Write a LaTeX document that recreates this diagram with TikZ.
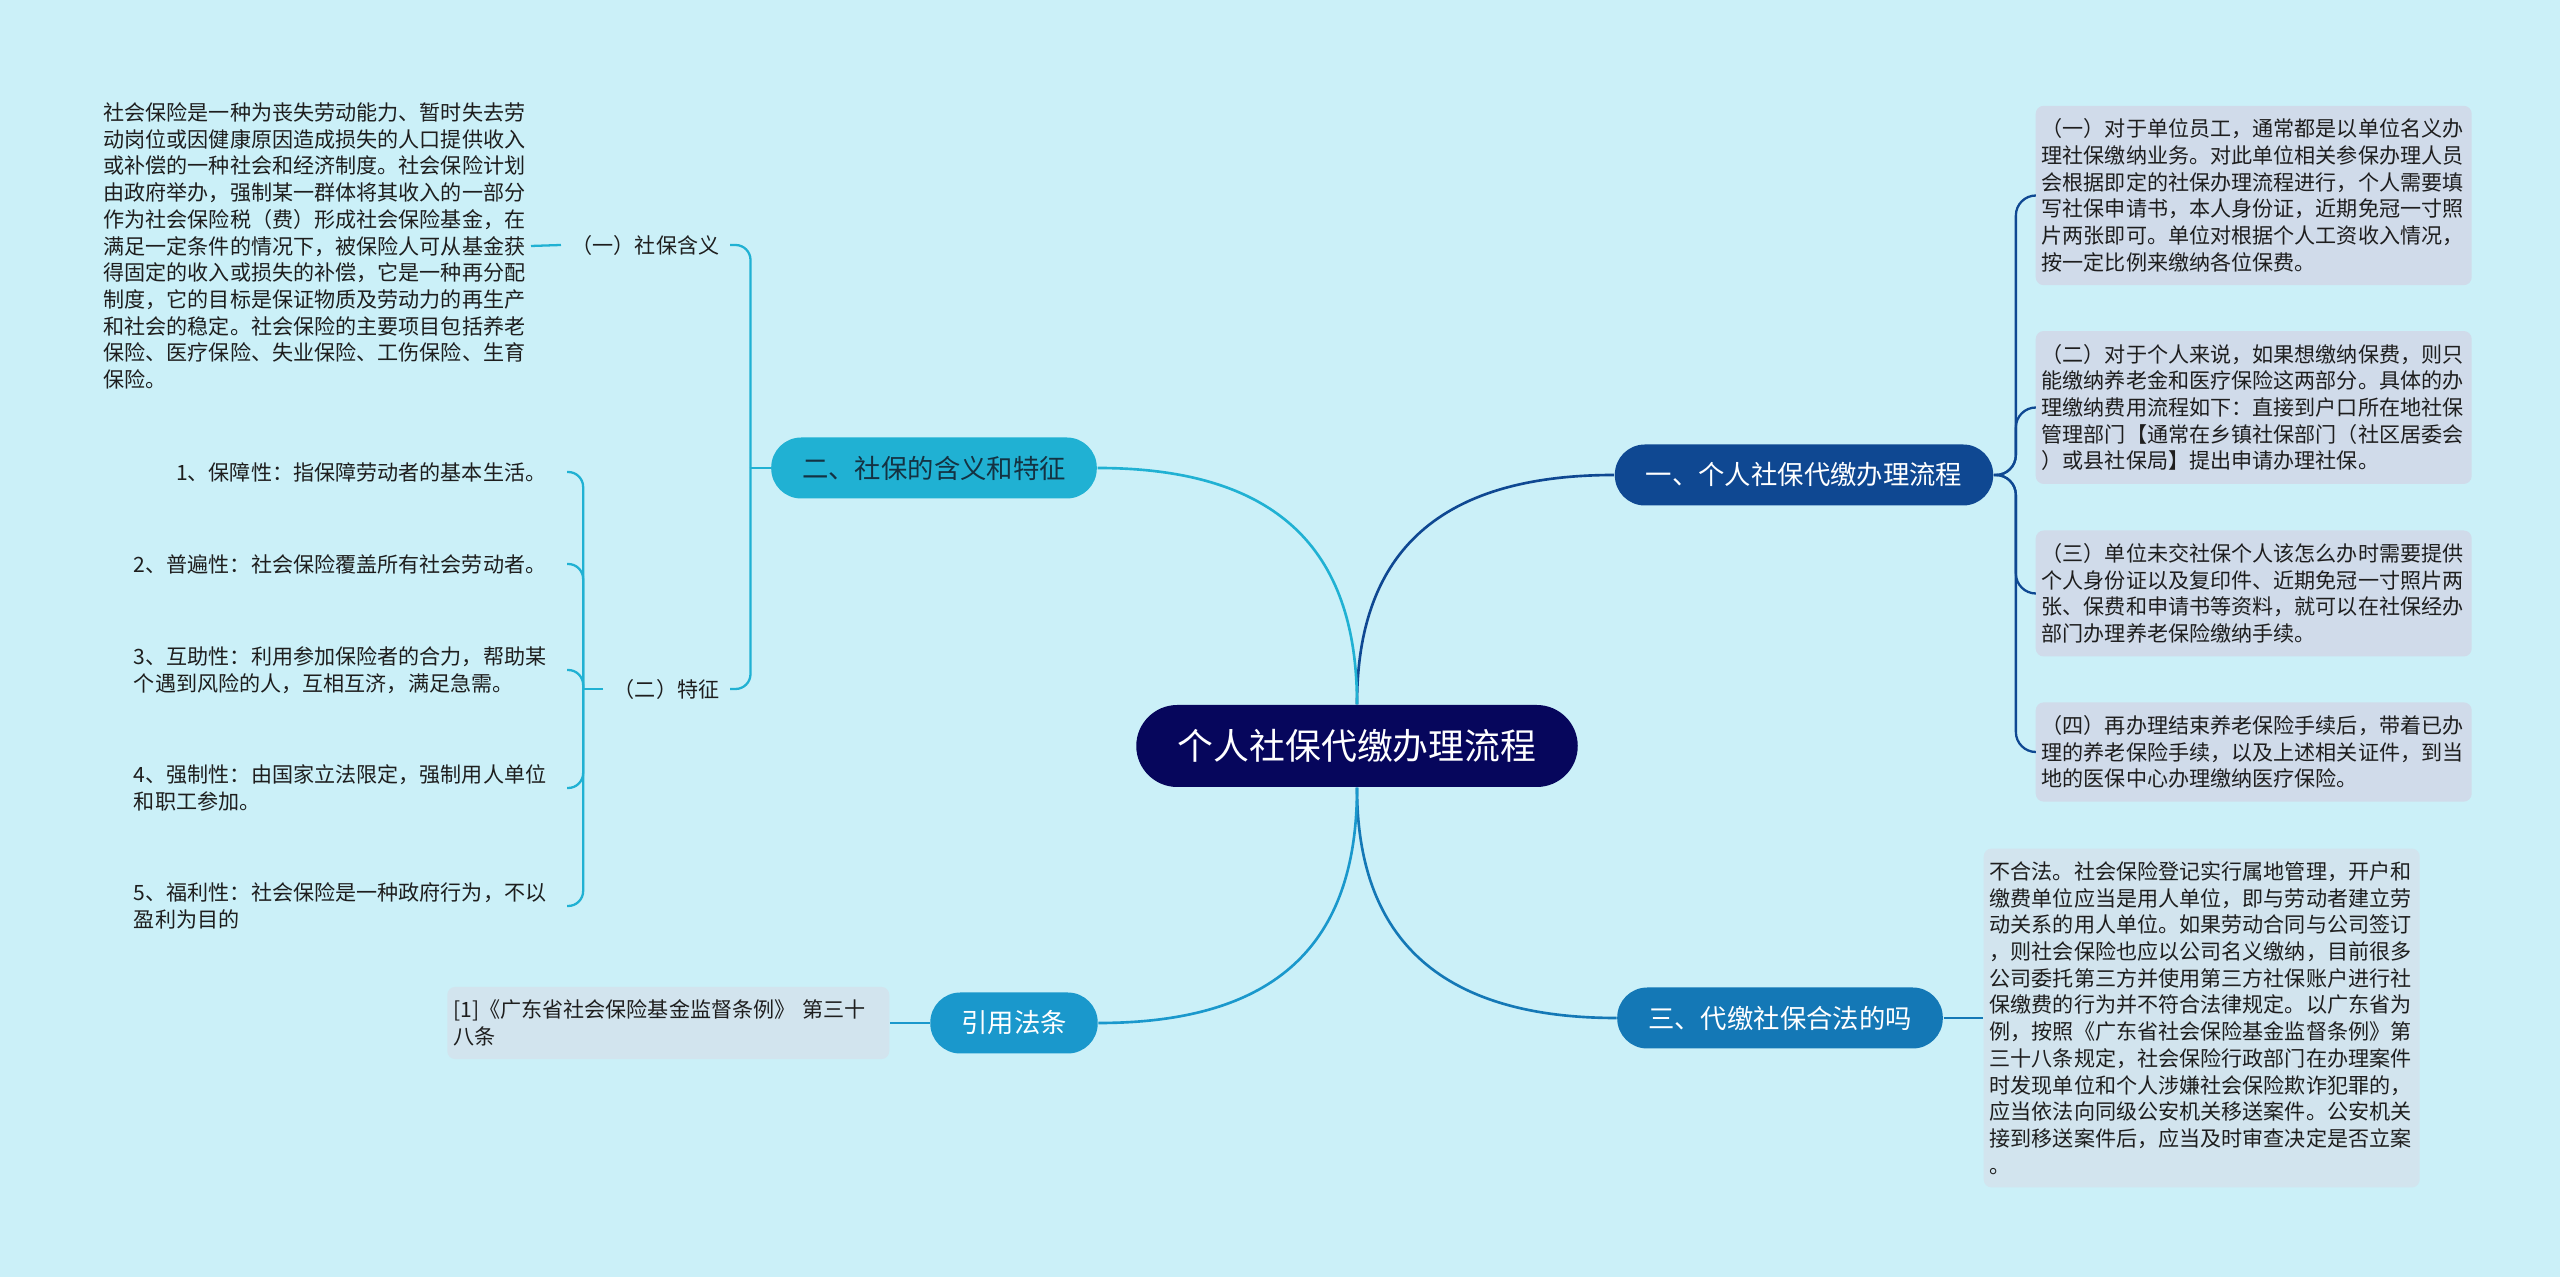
\documentclass[tikz,border=0pt]{standalone}
\usepackage{fontspec}
\setmainfont{Noto Sans CJK SC}
\usetikzlibrary{calc,positioning}
\definecolor{bgcyan}{RGB}{203,240,248}
\definecolor{rootnavy}{RGB}{6,6,92}
\definecolor{oneblue}{RGB}{15,72,146}
\definecolor{twocyan}{RGB}{32,177,211}
\definecolor{threeblue}{RGB}{20,120,182}
\definecolor{citeblue}{RGB}{26,152,204}
\definecolor{cardgray}{RGB}{208,219,234}
\definecolor{cardcyan}{RGB}{210,228,238}
\definecolor{inkgray}{RGB}{30,30,30}
\definecolor{twoink}{RGB}{20,50,66}
\newcommand{\leaffont}{\fontsize{6pt}{7.6pt}\selectfont}
\tikzset{pill/.style={rounded corners=0.3cm,minimum height=0.61cm,inner xsep=0.31cm,inner ysep=0pt,
    font=\fontsize{7.5pt}{9pt}\selectfont,text=white},
  leaf/.style={inner sep=0.05cm,align=left,font=\leaffont,text=inkgray},
  card/.style={leaf,rounded corners=0.08cm,inner xsep=0.06cm,inner ysep=0.13cm,text width=4.24cm},
  link/.style={line width=0.75pt},
  hook/.style={line width=0.65pt,rounded corners=0.15cm}}
\begin{document}
\begin{tikzpicture}
\fill[bgcyan] (0,0) rectangle (25.6,-12.77);
\useasboundingbox (0,0) rectangle (25.6,-12.77);
% centre and main branches
\node[pill,fill=rootnavy,minimum height=0.82cm,inner xsep=0.415cm,rounded corners=0.41cm,
  font=\fontsize{10.2pt}{12pt}\selectfont] (root) at (13.57,-7.46) {个人社保代缴办理流程};
\node[pill,fill=oneblue] (b1) at (18.04,-4.75) {一、个人社保代缴办理流程};
\node[pill,fill=twocyan,text=twoink] (b2) at (9.34,-4.68) {二、社保的含义和特征};
\node[pill,fill=threeblue] (b3) at (17.80,-10.18) {三、代缴社保合法的吗};
\node[pill,fill=citeblue] (b4) at (10.14,-10.23) {引用法条};
\draw[link,oneblue] (root.north) .. controls +(0,1.45) and +(-1.83,0) .. (b1.west);
\draw[link,twocyan] (root.north) .. controls +(0,1.45) and +(1.9,0) .. (b2.east);
\draw[link,threeblue] (root.south) .. controls +(0,-1.45) and +(-1.83,0) .. (b3.west);
\draw[link,citeblue] (root.south) .. controls +(0,-1.45) and +(1.9,0) .. (b4.east);
% right side
\node[card,fill=cardgray,anchor=west] (r1) at (20.35,-1.955) {（一）对于单位员工，通常都是以单位名义办\\理社保缴纳业务。对此单位相关参保办理人员\\会根据即定的社保办理流程进行，个人需要填\\写社保申请书，本人身份证，近期免冠一寸照\\片两张即可。单位对根据个人工资收入情况，\\按一定比例来缴纳各位保费。};
\node[card,fill=cardgray,anchor=west] (r2) at (20.35,-4.075) {（二）对于个人来说，如果想缴纳保费，则只\\能缴纳养老金和医疗保险这两部分。具体的办\\理缴纳费用流程如下：直接到户口所在地社保\\管理部门【通常在乡镇社保部门（社区居委会\\）或县社保局】提出申请办理社保。};
\node[card,fill=cardgray,anchor=west] (r3) at (20.35,-5.935) {（三）单位未交社保个人该怎么办时需要提供\\个人身份证以及复印件、近期免冠一寸照片两\\张、保费和申请书等资料，就可以在社保经办\\部门办理养老保险缴纳手续。};
\node[card,fill=cardgray,anchor=west] (r4) at (20.35,-7.52) {（四）再办理结束养老保险手续后，带着已办\\理的养老保险手续，以及上述相关证件，到当\\地的医保中心办理缴纳医疗保险。};
\coordinate (s1) at ($(b1.east)+(0.22,0)$);
\foreach \n in {r1,r2,r3,r4}
  \draw[hook,oneblue,rounded corners=0.2cm] (b1.east) -- (s1) |- (\n.west);
\node[card,fill=cardcyan,anchor=west] (r5) at (19.83,-10.18) {不合法。社会保险登记实行属地管理，开户和\\缴费单位应当是用人单位，即与劳动者建立劳\\动关系的用人单位。如果劳动合同与公司签订\\，则社会保险也应以公司名义缴纳，目前很多\\公司委托第三方并使用第三方社保账户进行社\\保缴费的行为并不符合法律规定。以广东省为\\例，按照《广东省社会保险基金监督条例》第\\三十八条规定，社会保险行政部门在办理案件\\时发现单位和个人涉嫌社会保险欺诈犯罪的，\\应当依法向同级公安机关移送案件。公安机关\\接到移送案件后，应当及时审查决定是否立案\\。};
\draw[hook,threeblue] (b3.east) -- (r5.west);
% left side
\node[card,fill=cardcyan,anchor=east,text width=4.3cm] (l4) at (8.90,-10.23) {[1]《广东省社会保险基金监督条例》 第三十\\八条};
\draw[hook,citeblue] (b4.west) -- (l4.east);
\node[leaf,anchor=east,inner xsep=0.1cm] (c21) at (7.30,-2.45) {（一）社保含义};
\node[leaf,anchor=east,inner xsep=0.1cm] (c22) at (7.30,-6.89) {（二）特征};
\coordinate (s2) at ($(b2.west)+(-0.2,0)$);
\draw[hook,twocyan] (b2.west) -- (s2);
\foreach \n in {c21,c22}
  \draw[hook,twocyan] (s2) |- (\n.east);
\node[leaf,anchor=east] (d21) at (5.31,-2.46) {社会保险是一种为丧失劳动能力、暂时失去劳\\动岗位或因健康原因造成损失的人口提供收入\\或补偿的一种社会和经济制度。社会保险计划\\由政府举办，强制某一群体将其收入的一部分\\作为社会保险税（费）形成社会保险基金，在\\满足一定条件的情况下，被保险人可从基金获\\得固定的收入或损失的补偿，它是一种再分配\\制度，它的目标是保证物质及劳动力的再生产\\和社会的稳定。社会保险的主要项目包括养老\\保险、医疗保险、失业保险、工伤保险、生育\\保险。};
\draw[hook,twocyan] (c21.west) -- (d21.east);
\node[leaf,anchor=east,inner xsep=0.2cm] (f1) at (5.67,-4.72) {1、保障性：指保障劳动者的基本生活。};
\node[leaf,anchor=east,inner xsep=0.2cm] (f2) at (5.67,-5.64) {2、普遍性：社会保险覆盖所有社会劳动者。};
\node[leaf,anchor=east,inner xsep=0.2cm] (f3) at (5.67,-6.70) {3、互助性：利用参加保险者的合力，帮助某\\个遇到风险的人，互相互济，满足急需。};
\node[leaf,anchor=east,inner xsep=0.2cm] (f4) at (5.67,-7.88) {4、强制性：由国家立法限定，强制用人单位\\和职工参加。};
\node[leaf,anchor=east,inner xsep=0.2cm] (f5) at (5.67,-9.06) {5、福利性：社会保险是一种政府行为，不以\\盈利为目的};
\coordinate (s22) at ($(c22.west)+(-0.2,0)$);
\draw[hook,twocyan] (c22.west) -- (s22);
\foreach \i in {1,...,5}
  \draw[hook,twocyan] (s22) |- (f\i.east);
\end{tikzpicture}
\end{document}
